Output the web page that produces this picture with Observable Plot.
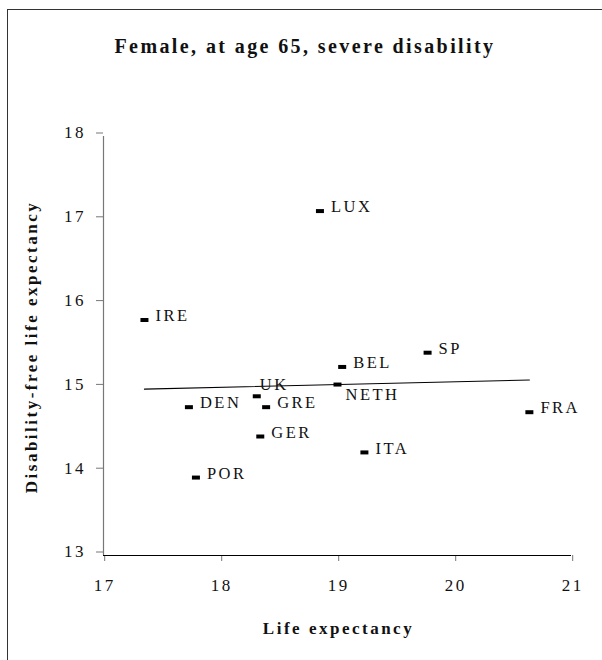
<!DOCTYPE html>
<html>
<head>
<meta charset="utf-8">
<script src="https://cdn.jsdelivr.net/npm/d3@7"></script>
<script src="https://cdn.jsdelivr.net/npm/@observablehq/plot@0.6"></script>
<style>
  html, body { margin: 0; padding: 0; background: #fff; overflow: hidden; }
  #wrap { position: relative; width: 602px; height: 660px; font-family: "Liberation Serif", serif; }
  #frame { position: absolute; left: 7px; top: 9px; width: 700px; height: 700px;
           border-left: 1.5px solid #333; border-top: 1.5px solid #333; pointer-events: none; }
  #title { position: absolute; top: 35px; left: 8px; width: 594px; text-align: center;
           font-weight: bold; font-size: 20px; letter-spacing: 2.4px; color: #111; }
  #chart { position: absolute; left: 0; top: 0; }
</style>
</head>
<body>
<div id="wrap">
  <div id="chart"></div>
  <div id="title">Female, at age 65, severe disability</div>
  <div id="frame"></div>
</div>
<script>
const countries = ["IRE", "DEN", "POR", "UK", "GER", "GRE", "LUX", "NETH", "BEL", "ITA", "SP", "FRA"];
const lifeExpectancy = [17.35, 17.73, 17.79, 18.31, 18.34, 18.39, 18.85, 19.00, 19.04, 19.23, 19.77, 20.64];
const disabilityFree = [15.81, 14.77, 13.93, 14.90, 14.42, 14.77, 17.11, 15.04, 15.25, 14.23, 15.42, 14.71];
const xTicks = [17, 18, 19, 20, 21];
const yTicks = [13, 14, 15, 16, 17, 18];
const xTitle = "Life expectancy";
const yTitle = "Disability-free life expectancy";

const data = countries.map((c, i) => ({name: c, x: lifeExpectancy[i], y: disabilityFree[i]}));

const rectSymbol = {
  draw(context) { context.rect(-4, -2, 8, 4); }
};

const plot = Plot.plot({
  width: 602,
  height: 660,
  marginLeft: 103,
  marginRight: 31,
  marginTop: 136,
  marginBottom: 105,
  style: {background: "transparent", fontFamily: "Liberation Serif, serif", color: "#111", letterSpacing: "2.5px"},
  x: {domain: [17, 21]},
  y: {domain: [13, 18]},
  marks: [
    Plot.axisX({ticks: xTicks, tickSize: 6, tickPadding: 17, fontSize: 17, stroke: "#777", fill: "#111", label: null, dx: 1.2, tickFormat: d => String(d)}),
    Plot.axisY({ticks: yTicks, tickSize: 7, tickPadding: 10.5, fontSize: 17, stroke: "#777", fill: "#111", label: null, dy: -3.5, tickFormat: d => String(d)}),
    Plot.ruleX([17], {stroke: "#777", strokeWidth: 1.2}),
    Plot.ruleY([13], {stroke: "#000", strokeWidth: 1.2}),
    Plot.linearRegressionY(data, {x: "x", y: "y", ci: 0, stroke: "#000", strokeWidth: 1.1}),
    Plot.dot(data, {x: "x", y: "y", symbol: rectSymbol, fill: "#000", stroke: null}),
    Plot.text(data.filter(d => d.name !== "UK" && d.name !== "NETH"), {
      x: "x", y: "y", text: "name", textAnchor: "start", dx: 11, dy: -4, fontSize: 16.5, fill: "#111", ariaLabel: "point labels"
    }),
    Plot.text(data.filter(d => d.name === "UK"), {
      x: "x", y: "y", text: "name", textAnchor: "start", dx: 3, dy: -12, fontSize: 16.5, fill: "#111", ariaLabel: "point labels"
    }),
    Plot.text(data.filter(d => d.name === "NETH"), {
      x: "x", y: "y", text: "name", textAnchor: "start", dx: 8, dy: 10.5, fontSize: 16.5, fill: "#111", ariaLabel: "point labels"
    }),
    Plot.text([xTitle], {frameAnchor: "bottom", textAnchor: "middle", lineAnchor: "middle", dy: 73.5, dx: 1, fontSize: 17, fontWeight: "bold", fill: "#111", ariaLabel: "axis titles"}),
    Plot.text([yTitle], {frameAnchor: "left", textAnchor: "middle", rotate: -90, lineAnchor: "middle", dx: -71.5, dy: 1, fontSize: 17, fontWeight: "bold", fill: "#111", ariaLabel: "axis titles"})
  ]
});
d3.select(plot).selectAll('g[aria-label="point labels"] text').style("letter-spacing", "3px");
d3.select(plot).selectAll('g[aria-label="axis titles"] text').style("letter-spacing", "2.4px");
document.getElementById("chart").appendChild(plot);
</script>
</body>
</html>
